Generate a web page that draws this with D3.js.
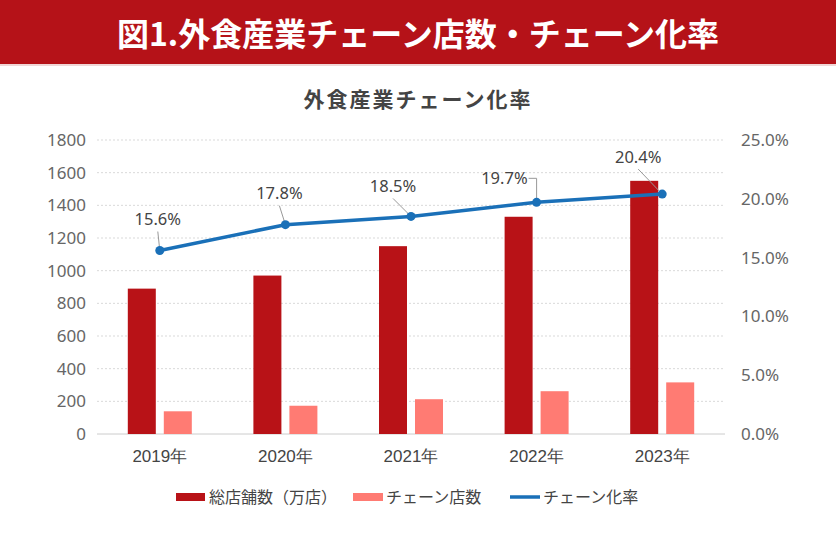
<!DOCTYPE html>
<html><head><meta charset="utf-8">
<script src="https://cdn.jsdelivr.net/npm/d3@7"></script>
<style>
html,body{margin:0;padding:0;background:#fff;}
svg{display:block;font-family:"Noto Sans CJK JP","Noto Sans",sans-serif;}
</style></head>
<body>
<script>
const years = ["2019年","2020年","2021年","2022年","2023年"];
const totalStores = [890, 970, 1150, 1330, 1550];
const chainStores = [139, 173, 213, 262, 316];
const chainRate = [15.6, 17.8, 18.5, 19.7, 20.4];
const leftTicks = [0,200,400,600,800,1000,1200,1400,1600,1800];
const rightTicks = [0,5,10,15,20,25];
const seriesNames = ["総店舗数（万店）","チェーン店数","チェーン化率"];
const bannerTitle = "図1.外食産業チェーン店数・チェーン化率";
const chartTitle = "外食産業チェーン化率";

const W = 836, H = 536;
const C = {dark:"#B81217", light:"#FF7B73", line:"#1A70B8", axis:"#666", grid:"#d9d9d9"};
const NUM = "'Noto Sans', sans-serif";
const svg = d3.select("body").append("svg").attr("width",W).attr("height",H);

// banner
svg.append("rect").attr("x",0).attr("y",0).attr("width",W).attr("height",64).attr("fill","#B51218");
svg.append("rect").attr("x",0).attr("y",64).attr("width",W).attr("height",2).attr("fill","#f0d6d6");
svg.append("text").attr("x",W/2).attr("y",46).attr("text-anchor","middle")
  .attr("fill","#fff").attr("font-size",32).attr("font-weight","bold").text(bannerTitle);

svg.append("text").attr("x",418).attr("y",107).attr("text-anchor","middle")
  .attr("fill","#444").attr("font-size",21).attr("font-weight","bold").attr("letter-spacing",2).text(chartTitle);

const m = {l:97, r:725, t:140, b:434};
const x = d3.scaleBand().domain(years).range([m.l,m.r]);
const yL = d3.scaleLinear().domain([0,1800]).range([m.b,m.t]);
const yR = d3.scaleLinear().domain([0,25]).range([m.b,m.t]);

// grid
svg.append("g").selectAll("line").data(leftTicks.filter(d=>d>0)).join("line")
  .attr("x1",m.l).attr("x2",m.r).attr("y1",d=>yL(d)).attr("y2",d=>yL(d))
  .attr("stroke",C.grid).attr("stroke-dasharray","2,2");
svg.append("line").attr("x1",m.l).attr("x2",m.r).attr("y1",m.b).attr("y2",m.b).attr("stroke","#ccc");

// axes
const gl = svg.append("g").attr("transform",`translate(${m.l-11},0)`)
  .call(d3.axisLeft(yL).tickValues(leftTicks).tickFormat(d3.format("d")).tickSize(0).tickPadding(0));
gl.select(".domain").remove();
gl.selectAll("text").attr("font-size",17).attr("fill",C.axis).attr("font-family",NUM);

const gr = svg.append("g").attr("transform",`translate(${m.r+16},0)`)
  .call(d3.axisRight(yR).tickValues(rightTicks).tickFormat(d=>d.toFixed(1)+"%").tickSize(0).tickPadding(0));
gr.select(".domain").remove();
gr.selectAll("text").attr("font-size",17).attr("fill",C.axis).attr("font-family",NUM);

const gx = svg.append("g").attr("transform",`translate(0,${m.b+13})`)
  .call(d3.axisBottom(x).tickSize(0).tickPadding(0));
gx.select(".domain").remove();
gx.selectAll("text").attr("font-size",17).attr("fill","#444").attr("dy","0.9em");

// bars
const bw = 28, gap = 8;
const cx = d => x(d) + x.bandwidth()/2;
svg.append("g").selectAll("rect").data(years).join("rect")
  .attr("x",(d)=>cx(d)-gap/2-bw).attr("width",bw)
  .attr("y",(d,i)=>yL(totalStores[i])).attr("height",(d,i)=>m.b-yL(totalStores[i]))
  .attr("fill",C.dark);
svg.append("g").selectAll("rect").data(years).join("rect")
  .attr("x",(d)=>cx(d)+gap/2).attr("width",bw)
  .attr("y",(d,i)=>yL(chainStores[i])).attr("height",(d,i)=>m.b-yL(chainStores[i]))
  .attr("fill",C.light);

// line
const pts = years.map((d,i)=>[cx(d), yR(chainRate[i])]);
svg.append("path").attr("d",d3.line()(pts)).attr("fill","none").attr("stroke",C.line).attr("stroke-width",3.5);

// labels with leader lines (layout offsets, label center relative to point)
const lab = [
  {dx:-2, dy:-31, lead:"d"},
  {dx:-6, dy:-31, lead:"d"},
  {dx:-18, dy:-30, lead:"d"},
  {dx:-10, dy:-24, lead:"h"},
  {dx:-24, dy:-37, lead:"d"}
];
const gLab = svg.append("g");
pts.forEach((p,i)=>{
  const o = lab[i];
  const tx = p[0]+o.dx, ty = p[1]+o.dy;
  let path;
  const t = gLab.append("text").attr("y",ty).attr("dy","0.35em")
    .attr("font-size",16.5).attr("fill","#444").attr("font-family",NUM)
    .text(chainRate[i].toFixed(1)+"%");
  if (o.lead==="h") {
    path = `M${p[0]-8},${ty}H${p[0]}V${p[1]}`;
    t.attr("x",p[0]-9).attr("text-anchor","end");
  } else {
    path = `M${tx},${ty+12}L${p[0]},${p[1]}`;
    t.attr("x",tx).attr("text-anchor","middle");
  }
  gLab.insert("path",":first-child").attr("d",path).attr("fill","none").attr("stroke","#999").attr("stroke-width",1);
});
svg.append("g").selectAll("circle").data(pts).join("circle")
  .attr("cx",d=>d[0]).attr("cy",d=>d[1]).attr("r",4.5).attr("fill",C.line);

// legend
const leg = svg.append("g").attr("font-size",16).attr("fill","#444");
const lx = [176, 353, 510];
leg.append("rect").attr("x",lx[0]).attr("y",493).attr("width",29).attr("height",8).attr("fill",C.dark);
leg.append("rect").attr("x",lx[1]).attr("y",493).attr("width",30).attr("height",8).attr("fill",C.light);
leg.append("line").attr("x1",lx[2]).attr("x2",lx[2]+30).attr("y1",497).attr("y2",497).attr("stroke",C.line).attr("stroke-width",3.5);
leg.selectAll("text").data(seriesNames).join("text")
  .attr("x",(d,i)=>lx[i]+33).attr("y",497).attr("dy","0.35em").attr("fill","#444").text(d=>d);
</script>
</body></html>
